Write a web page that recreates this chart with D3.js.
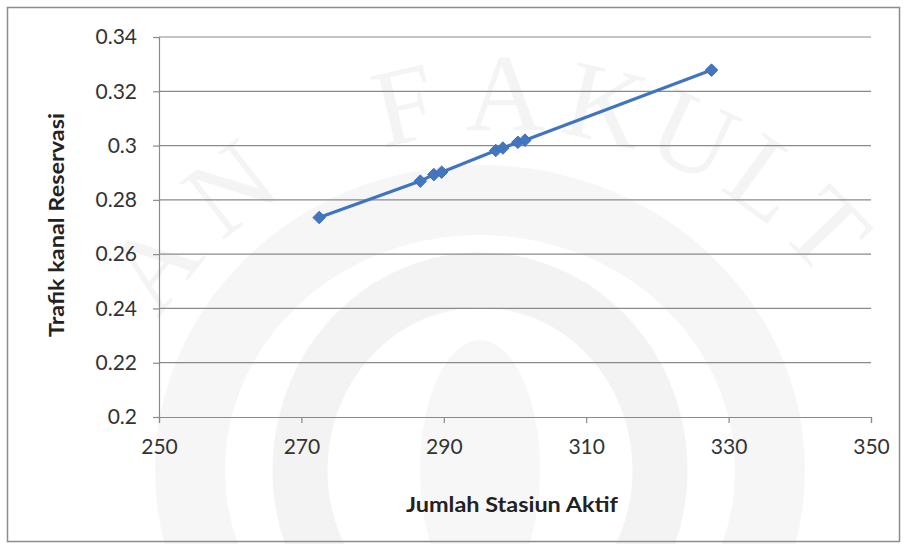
<!DOCTYPE html>
<html>
<head>
<meta charset="utf-8">
<script src="https://cdn.jsdelivr.net/npm/d3@7/dist/d3.min.js"></script>
<style>
  html, body { margin: 0; padding: 0; background: #fff; }
  svg { display: block; }
</style>
</head>
<body>
<svg id="chart" width="904" height="544"></svg>
<script>
// Active stations vs. reservation channel traffic
const stations = [272.5, 286.7, 288.6, 289.7, 297.3, 298.3, 300.4, 301.4, 327.6];
const traffic  = [0.2735, 0.2869, 0.2893, 0.2902, 0.2982, 0.2991, 0.3012, 0.3020, 0.3278];
const xTicks = [250, 270, 290, 310, 330, 350];
const yTicks = [0.2, 0.22, 0.24, 0.26, 0.28, 0.3, 0.32, 0.34];
const xTitle = "Jumlah Stasiun Aktif";
const yTitle = "Trafik kanal Reservasi";
const watermarkLetters = ["A", "N", "F", "A", "K", "U", "L", "T"];

const svg = d3.select("#chart");
const W = 904, H = 544;
const font = "Lato, 'Open Sans', sans-serif";

svg.append("rect").attr("width", W).attr("height", H).attr("fill", "#fff");

// faint background emblem
const wm = svg.append("g").attr("class", "watermark");
wm.append("ellipse").attr("cx", 480).attr("cy", 470).attr("rx", 290).attr("ry", 270)
  .attr("fill", "none").attr("stroke", "#f6f6f6").attr("stroke-width", 70);
wm.append("ellipse").attr("cx", 480).attr("cy", 470).attr("rx", 180).attr("ry", 190)
  .attr("fill", "none").attr("stroke", "#f3f3f3").attr("stroke-width", 55);
wm.append("ellipse").attr("cx", 480).attr("cy", 470).attr("rx", 60).attr("ry", 130)
  .attr("fill", "#f7f7f7");
const arcC = [505, 540], arcR = 435;
const angles = [-52, -38, -13, 0, 13, 25, 36, 46];
watermarkLetters.forEach((ch, i) => {
  const a = angles[i] * Math.PI / 180;
  const px = arcC[0] + arcR * Math.sin(a), py = arcC[1] - arcR * Math.cos(a);
  wm.append("text").attr("x", px).attr("y", py)
    .attr("transform", `rotate(${angles[i]},${px},${py})`)
    .attr("text-anchor", "middle").attr("dominant-baseline", "middle")
    .attr("font-family", "'Liberation Serif', 'DejaVu Serif', serif")
    .attr("font-size", 110).attr("fill", "#f4f4f4").text(ch);
});

// outer frame
svg.append("rect").attr("x", 7.5).attr("y", 7.5).attr("width", W - 12).attr("height", H - 10)
  .attr("fill", "none").attr("stroke", "#8c8c8c").attr("stroke-width", 1.5);

const x = d3.scaleLinear().domain([250, 350]).range([159, 871]);
const y = d3.scaleLinear().domain([0.2, 0.34]).range([417, 37]);

// horizontal gridlines
svg.append("g").selectAll("line").data(yTicks.slice(1)).join("line")
  .attr("x1", x(250)).attr("x2", x(350))
  .attr("y1", d => y(d)).attr("y2", d => y(d))
  .attr("stroke", "#8a8a8a").attr("stroke-width", 1.2);

// axes
const yAxis = svg.append("g").attr("transform", `translate(${x(250)},0)`)
  .call(d3.axisLeft(y).tickValues(yTicks).tickFormat(d => String(+d.toFixed(2))).tickSize(6).tickPadding(16));
const xAxis = svg.append("g").attr("transform", `translate(0,${y(0.2)})`)
  .call(d3.axisBottom(x).tickValues(xTicks).tickSize(6).tickPadding(16));
[xAxis, yAxis].forEach(g => {
  g.select(".domain").attr("stroke", "#8a8a8a").attr("stroke-width", 1.2);
  g.selectAll(".tick line").attr("stroke", "#8a8a8a").attr("stroke-width", 1.2);
  g.selectAll(".tick text").attr("font-family", font).attr("font-size", 21).attr("fill", "#333");
});

// series line + diamond markers
const pts = stations.map((s, i) => [s, traffic[i]]);
svg.append("path").datum(pts)
  .attr("d", d3.line().x(d => x(d[0])).y(d => y(d[1])))
  .attr("fill", "none").attr("stroke", "#3f75c0").attr("stroke-width", 3.2);
svg.append("g").selectAll("path").data(pts).join("path")
  .attr("transform", d => `translate(${x(d[0])},${y(d[1])})`)
  .attr("d", d3.symbol(d3.symbolDiamond2, 100))
  .attr("fill", "#4476bf").attr("stroke", "#3d6fb5").attr("stroke-width", 1);

// axis titles
svg.append("text").attr("x", 512).attr("y", 512).attr("text-anchor", "middle")
  .attr("font-family", font).attr("font-weight", "bold").attr("font-size", 20).attr("fill", "#222")
  .attr("textLength", 212).attr("lengthAdjust", "spacingAndGlyphs")
  .text(xTitle);
svg.append("text").attr("transform", "translate(64,225) rotate(-90)").attr("text-anchor", "middle")
  .attr("font-family", font).attr("font-weight", "bold").attr("font-size", 20).attr("fill", "#222")
  .attr("textLength", 224).attr("lengthAdjust", "spacingAndGlyphs")
  .text(yTitle);
</script>
</body>
</html>
